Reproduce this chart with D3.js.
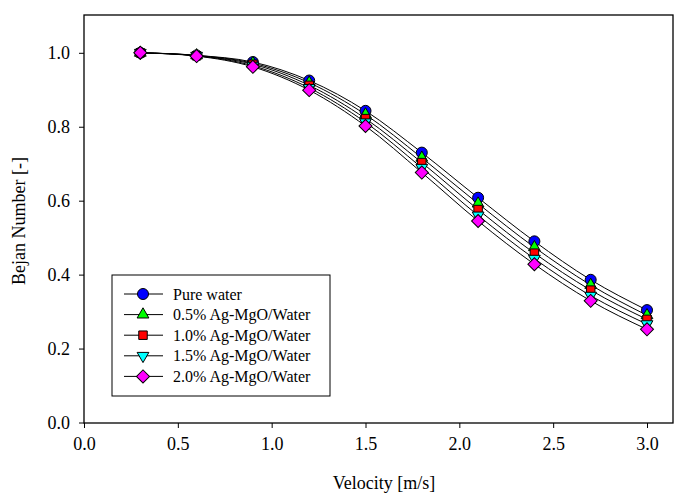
<!DOCTYPE html>
<html>
<head>
<meta charset="utf-8">
<style>
  body { margin: 0; background: #fff; }
  svg text { font-family: "Liberation Serif", "Times New Roman", Times, serif !important; fill: #000; }
  .axis path, .axis line { stroke: #000; }
</style>
</head>
<body>
<svg width="674" height="493"></svg>
<script src="https://cdn.jsdelivr.net/npm/d3@7"></script>
<script>
// velocity [m/s]
var velocity = [0.3, 0.6, 0.9, 1.2, 1.5, 1.8, 2.1, 2.4, 2.7, 3.0];

// Bejan number per fluid
var pureWater = [1.000, 0.993, 0.975, 0.925, 0.843, 0.730, 0.608, 0.490, 0.386, 0.304];
var agMgO05   = [1.000, 0.993, 0.972, 0.919, 0.833, 0.716, 0.592, 0.474, 0.372, 0.290];
var agMgO10   = [1.000, 0.992, 0.969, 0.912, 0.822, 0.703, 0.576, 0.458, 0.358, 0.279];
var agMgO15   = [1.000, 0.992, 0.965, 0.905, 0.812, 0.689, 0.560, 0.443, 0.343, 0.266];
var agMgO20   = [1.000, 0.991, 0.962, 0.899, 0.802, 0.676, 0.545, 0.428, 0.329, 0.252];

var seriesNames = ["Pure water", "0.5% Ag-MgO/Water", "1.0% Ag-MgO/Water", "1.5% Ag-MgO/Water", "2.0% Ag-MgO/Water"];
var xTicks = [0.0, 0.5, 1.0, 1.5, 2.0, 2.5, 3.0];
var yTicks = [0.0, 0.2, 0.4, 0.6, 0.8, 1.0];

var series = [
  {name: seriesNames[0], values: pureWater, color: "#0000ff", symbol: d3.symbolCircle, size: 95, rot: 0},
  {name: seriesNames[1], values: agMgO05, color: "#00ff00", symbol: d3.symbolTriangle, size: 60, rot: 0},
  {name: seriesNames[2], values: agMgO10, color: "#ff0000", symbol: d3.symbolSquare, size: 72, rot: 0},
  {name: seriesNames[3], values: agMgO15, color: "#00ffff", symbol: d3.symbolTriangle, size: 60, rot: 180},
  {name: seriesNames[4], values: agMgO20, color: "#ff00ff", symbol: d3.symbolSquare, size: 85, rot: 45}
];

var svg = d3.select("svg");
var plotL = 84, plotR = 673, plotT = 15, plotB = 423;

var x = d3.scaleLinear().domain([0, 3]).range([84, 647]);
var y = d3.scaleLinear().domain([0, 1]).range([422.5, 52.8]);

// frame
svg.append("rect")
    .attr("x", plotL).attr("y", plotT)
    .attr("width", plotR - plotL).attr("height", plotB - plotT)
    .attr("fill", "none").attr("stroke", "#000").attr("stroke-width", 1.3);

var xAxis = svg.append("g")
    .attr("class", "axis")
    .attr("transform", "translate(0," + plotB + ")")
    .call(d3.axisBottom(x).tickValues(xTicks).tickFormat(d3.format(".1f")).tickSize(5).tickSizeOuter(0));
xAxis.select(".domain").remove();
xAxis.selectAll("text").attr("font-size", 18).attr("y", 9).attr("dy", "1em");

var yAxis = svg.append("g")
    .attr("class", "axis")
    .attr("transform", "translate(" + plotL + ",0)")
    .call(d3.axisLeft(y).tickValues(yTicks).tickFormat(d3.format(".1f")).tickSize(5).tickSizeOuter(0));
yAxis.select(".domain").remove();
yAxis.selectAll("text").attr("font-size", 18).attr("x", -14);

svg.append("text")
    .attr("x", 384).attr("y", 489)
    .attr("text-anchor", "middle").attr("font-size", 18)
    .text("Velocity [m/s]");

svg.append("text")
    .attr("transform", "translate(25,221) rotate(-90)")
    .attr("text-anchor", "middle").attr("font-size", 18)
    .text("Bejan Number [-]");

var line = d3.line()
    .x(function(d, i) { return x(velocity[i]); })
    .y(function(d) { return y(d); })
    .curve(d3.curveMonotoneX);

series.forEach(function(s) {
  svg.append("path")
      .datum(s.values)
      .attr("d", line)
      .attr("fill", "none")
      .attr("stroke", "#000")
      .attr("stroke-width", 1);
});

series.forEach(function(s) {
  var sym = d3.symbol().type(s.symbol).size(s.size);
  svg.append("g").selectAll("path")
      .data(s.values)
      .enter().append("path")
      .attr("d", sym)
      .attr("transform", function(d, i) {
        return "translate(" + x(velocity[i]) + "," + y(d) + ") rotate(" + s.rot + ")";
      })
      .attr("fill", s.color)
      .attr("stroke", "#000")
      .attr("stroke-width", 1);
});

// legend
var legend = svg.append("g").attr("transform", "translate(112,275)");
legend.append("rect")
    .attr("width", 218).attr("height", 121)
    .attr("fill", "#fff").attr("stroke", "#000").attr("stroke-width", 1);

series.forEach(function(s, i) {
  var ry = 19 + i * 20.6;
  var row = legend.append("g").attr("transform", "translate(0," + ry + ")");
  row.append("line")
      .attr("x1", 12).attr("x2", 51)
      .attr("stroke", "#000").attr("stroke-width", 1);
  row.append("path")
      .attr("d", d3.symbol().type(s.symbol).size(s.size)())
      .attr("transform", "translate(31,0) rotate(" + s.rot + ")")
      .attr("fill", s.color).attr("stroke", "#000").attr("stroke-width", 1);
  row.append("text")
      .attr("x", 61).attr("dy", "0.35em")
      .attr("font-size", 16)
      .text(s.name);
});
</script>
</body>
</html>
